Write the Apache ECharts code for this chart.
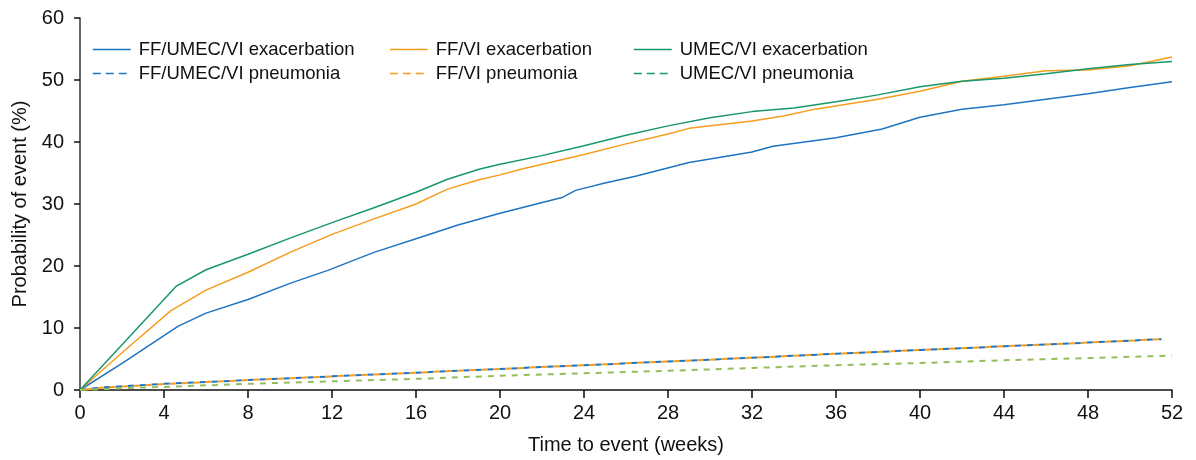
<!DOCTYPE html>
<html>
<head>
<meta charset="utf-8">
<script src="https://cdn.jsdelivr.net/npm/echarts@6/dist/echarts.min.js"></script>
<style>
  html, body { margin: 0; padding: 0; background: #fff; }
  #chart { width: 1196px; height: 460px; }
</style>
</head>
<body>
<div id="chart"></div>
<script>
// Cumulative probability of event (%) by week, per treatment arm
const ffUmecViExacWeeks = [0, 2, 4.68, 6, 8, 10, 11.8, 14, 16, 18, 20, 23, 23.6, 25, 26.5, 29, 32, 33, 36, 38.2, 40, 42, 44, 46, 48, 50, 52];
const ffUmecViExacPct   = [0, 4.3, 10.3, 12.4, 14.6, 17.2, 19.3, 22.2, 24.4, 26.6, 28.5, 31.1, 32.2, 33.4, 34.5, 36.7, 38.4, 39.3, 40.7, 42.1, 44.0, 45.3, 46.0, 46.9, 47.8, 48.8, 49.7];

const ffViExacWeeks = [0, 2, 4.33, 6, 8, 10, 12, 14, 16, 17.5, 19, 20, 21, 24, 26, 28, 29, 32, 33.5, 35, 38, 40, 42, 44, 46, 48, 50, 52];
const ffViExacPct   = [0, 6.0, 12.8, 16.1, 19.0, 22.2, 25.1, 27.6, 30.0, 32.4, 33.9, 34.7, 35.6, 38.0, 39.7, 41.3, 42.2, 43.4, 44.2, 45.3, 46.9, 48.2, 49.8, 50.6, 51.5, 51.6, 52.3, 53.7];

const umecViExacWeeks = [0, 2, 4.57, 6, 8, 10, 12, 14, 16, 17.5, 19, 20, 22, 24, 26, 28, 30, 32, 34, 36, 38, 40, 42, 44, 46, 48, 50, 52];
const umecViExacPct   = [0, 7.3, 16.7, 19.4, 21.9, 24.5, 27.0, 29.4, 31.9, 34.0, 35.6, 36.4, 37.8, 39.4, 41.1, 42.6, 43.9, 44.9, 45.5, 46.5, 47.6, 48.9, 49.8, 50.3, 51.0, 51.8, 52.5, 53.0];

const ffUmecViPneuWeeks = [0, 1, 4, 8, 12, 16, 20, 24, 28, 32, 36, 40, 44, 48, 51.5];
const ffUmecViPneuPct   = [0, 0.4, 1.0, 1.6, 2.2, 2.8, 3.4, 4.0, 4.6, 5.2, 5.85, 6.45, 7.05, 7.65, 8.2];

const ffViPneuWeeks = [0, 1, 4, 8, 12, 16, 20, 24, 28, 32, 36, 40, 44, 48, 51.5];
const ffViPneuPct   = [0, 0.35, 0.95, 1.6, 2.2, 2.8, 3.4, 4.0, 4.6, 5.2, 5.85, 6.45, 7.05, 7.65, 8.2];

const umecViPneuWeeks = [0, 2, 4, 8, 12, 16, 20, 24, 28, 32, 36, 40, 44, 48, 52];
const umecViPneuPct   = [0, 0.3, 0.5, 1.0, 1.4, 1.8, 2.3, 2.7, 3.1, 3.55, 4.0, 4.35, 4.8, 5.15, 5.55];

const seriesNames = [
  'FF/UMEC/VI exacerbation', 'FF/UMEC/VI pneumonia',
  'FF/VI exacerbation', 'FF/VI pneumonia',
  'UMEC/VI exacerbation', 'UMEC/VI pneumonia'
];

const BLUE = '#1f74c2';
const ORANGE = '#f59d1e';
const GREEN = '#17976b';
const LIME = '#95bd5a';
const FONT = '"Liberation Sans", Arial, Helvetica, sans-serif';

function pairs(xs, ys) { return xs.map((x, i) => [x, ys[i]]); }

function lineSeries(name, xs, ys, color, width, dashed, offset) {
  return {
    name: name,
    type: 'line',
    data: pairs(xs, ys),
    showSymbol: false,
    symbol: 'none',
    smooth: false,
    animation: false,
    lineStyle: {
      color: color,
      width: width,
      type: dashed ? [6, 6] : 'solid',
      dashOffset: offset || 0
    },
    itemStyle: { color: color },
    emphasis: { disabled: true }
  };
}

// One legend column: a solid (exacerbation) entry above a dashed (pneumonia) entry
function legendCol(left, names, dashStyles) {
  return {
    orient: 'vertical',
    left: left,
    top: 40,
    padding: 0,
    itemWidth: 38,
    itemHeight: 14,
    itemGap: 5,
    selectedMode: false,
    itemStyle: { opacity: 0 },
    textStyle: { fontFamily: FONT, fontSize: 18.5, color: '#111', padding: [0, 0, 0, 3] },
    data: names.map((n, i) => Object.assign({ name: n }, dashStyles[i]))
  };
}

const chart = echarts.init(document.getElementById('chart'), null, { renderer: 'canvas' });

chart.setOption({
  backgroundColor: '#fff',
  animation: false,
  grid: { left: 80, right: 24, top: 18, bottom: 69, containLabel: false },
  legend: [
    legendCol(92, [seriesNames[0], seriesNames[1]], [
      { lineStyle: { width: 1.5, type: 'solid' } },
      { lineStyle: { width: 1.5, type: [8, 5], dashOffset: 0 } }
    ]),
    legendCol(389, [seriesNames[2], seriesNames[3]], [
      { lineStyle: { width: 1.5, type: 'solid' } },
      { lineStyle: { width: 1.5, type: [8, 5], dashOffset: 0 } }
    ]),
    legendCol(633, [seriesNames[4], seriesNames[5]], [
      { lineStyle: { width: 1.5, type: 'solid' } },
      { lineStyle: { width: 1.5, color: GREEN, type: [8, 5], dashOffset: 0 } }
    ])
  ],
  xAxis: {
    type: 'value',
    min: 0,
    max: 52,
    interval: 4,
    name: 'Time to event (weeks)',
    nameLocation: 'middle',
    nameGap: 45,
    nameTextStyle: { fontFamily: FONT, fontSize: 20, color: '#111' },
    axisLine: { show: true, lineStyle: { color: '#111', width: 1.5 } },
    axisTick: { show: true, length: 8, lineStyle: { color: '#111', width: 1.5 } },
    axisLabel: { fontFamily: FONT, fontSize: 20, color: '#111', margin: 13 },
    splitLine: { show: false }
  },
  yAxis: {
    type: 'value',
    min: 0,
    max: 60,
    interval: 10,
    name: 'Probability of event (%)',
    nameLocation: 'middle',
    nameGap: 48,
    nameTextStyle: { fontFamily: FONT, fontSize: 20, color: '#111' },
    axisLine: { show: true, lineStyle: { color: '#333', width: 1.5 } },
    axisTick: { show: true, length: 6, lineStyle: { color: '#111', width: 1.5 } },
    axisLabel: { fontFamily: FONT, fontSize: 20, color: '#111', margin: 16 },
    splitLine: { show: false }
  },
  series: [
    lineSeries(seriesNames[0], ffUmecViExacWeeks, ffUmecViExacPct, BLUE, 1.5, false),
    lineSeries(seriesNames[1], ffUmecViPneuWeeks, ffUmecViPneuPct, BLUE, 2, true, 0),
    lineSeries(seriesNames[2], ffViExacWeeks, ffViExacPct, ORANGE, 1.5, false),
    lineSeries(seriesNames[3], ffViPneuWeeks, ffViPneuPct, ORANGE, 2, true, 6),
    lineSeries(seriesNames[4], umecViExacWeeks, umecViExacPct, GREEN, 1.5, false),
    lineSeries(seriesNames[5], umecViPneuWeeks, umecViPneuPct, LIME, 2, true, 0)
  ]
});
</script>
</body>
</html>
